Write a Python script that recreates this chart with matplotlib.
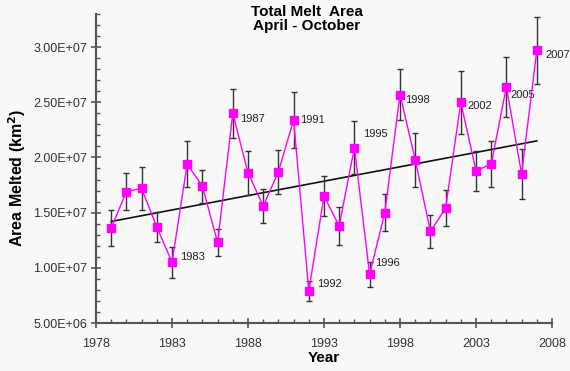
import numpy as np
from matplotlib import pyplot as plt
from matplotlib.ticker import FuncFormatter, MultipleLocator

plt.rcParams["font.family"] = ["Liberation Sans", "DejaVu Sans"]

years = list(range(1979, 2008))
melt_area = [
    1.36e7, 1.69e7, 1.72e7, 1.37e7, 1.05e7, 1.94e7, 1.74e7, 1.23e7, 2.40e7, 1.86e7,
    1.56e7, 1.87e7, 2.34e7, 7.9e6, 1.65e7, 1.38e7, 2.09e7, 9.4e6, 1.50e7, 2.57e7,
    1.98e7, 1.33e7, 1.54e7, 2.50e7, 1.88e7, 1.94e7, 2.64e7, 1.85e7, 2.97e7,
]
melt_err = [
    1.6e6, 1.7e6, 1.95e6, 1.4e6, 1.4e6, 2.05e6, 1.5e6, 1.25e6, 2.2e6, 2.0e6,
    1.5e6, 2.0e6, 2.5e6, 0.9e6, 1.8e6, 1.75e6, 2.4e6, 1.1e6, 1.7e6, 2.3e6,
    2.45e6, 1.5e6, 1.65e6, 2.85e6, 1.8e6, 2.1e6, 2.7e6, 2.3e6, 3.05e6,
]
trend_years = [1979, 2007]
trend_values = [1.42e7, 2.15e7]
labelled_years = [1983, 1987, 1991, 1992, 1995, 1996, 1998, 2002, 2005, 2007]
x_ticks = [1978, 1983, 1988, 1993, 1998, 2003, 2008]

# label offsets in points (dx, dy) relative to the data point
label_offsets = {
    1983: (6, 4), 1987: (5, -4), 1991: (5, 0), 1992: (6, 5), 1995: (6, 10),
    1996: (4, 8), 1998: (4, -4), 2002: (5, -3), 2005: (3, -6), 2007: (6, -3),
}

axis_grey = "#555555"

fig = plt.figure(figsize=(5.7, 3.71), dpi=100, facecolor="#f8f8f6")
ax = fig.add_axes([96 / 570, 1 - 323 / 371, 456 / 570, 309 / 371])
ax.set_facecolor("#f8f8f6")

ax.plot(trend_years, trend_values, color="#111111", linewidth=1.2, zorder=2)
ax.errorbar(years, melt_area, yerr=melt_err, fmt="none", ecolor="#333333",
            elinewidth=1.0, capsize=2.5, capthick=1.0, zorder=3)
ax.plot(years, melt_area, color="#ff00ff", linewidth=1.0, marker="s",
        markersize=5.5, markerfacecolor="#ff00ff", markeredgecolor="#ff00ff",
        zorder=4)

for yr in labelled_years:
    val = melt_area[years.index(yr)]
    dx, dy = label_offsets[yr]
    ax.annotate(str(yr), (yr, val), xytext=(dx, dy), textcoords="offset points",
                fontsize=8, color="#222222", ha="left", va="center")

ax.set_xlim(1978, 2008)
ax.set_ylim(5e6, 3.3e7)
ax.set_xticks(x_ticks)
ax.xaxis.set_minor_locator(MultipleLocator(1))
ax.yaxis.set_major_locator(MultipleLocator(5e6))
ax.yaxis.set_minor_locator(MultipleLocator(1e6))


def sci_fmt(v, _pos):
    mant, exp = f"{v:.2E}".split("E")
    return f"{mant}E+{int(exp):02d}"


ax.yaxis.set_major_formatter(FuncFormatter(sci_fmt))

for side in ("top", "right"):
    ax.spines[side].set_visible(False)
for side in ("left", "bottom"):
    ax.spines[side].set_color(axis_grey)
    ax.spines[side].set_linewidth(1.5)

ax.tick_params(which="major", direction="inout", length=7, width=1.2,
               color=axis_grey, labelsize=9, labelcolor="#333333")
ax.tick_params(which="minor", direction="in", length=3, width=1.0, color=axis_grey)
ax.tick_params(axis="x", which="major", pad=7)
ax.tick_params(axis="y", which="major", pad=3)

ax.set_xlabel("Year", fontsize=11, fontweight="bold", labelpad=1)
ax.set_ylabel("Area Melted (km$^\\mathbf{2}$)", fontsize=11.5, fontweight="bold")
ax.yaxis.set_label_coords(-0.15, 0.47)

fig.text(307 / 570, 1 - 5 / 371, "Total Melt  Area\nApril - October", ha="center",
         va="top", fontsize=11, fontweight="bold", linespacing=1.0)

fig.savefig("out.png", dpi=100, facecolor=fig.get_facecolor())
